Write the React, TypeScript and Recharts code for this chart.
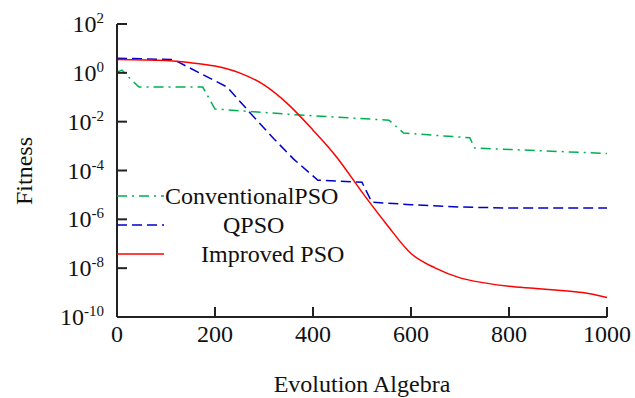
import { LineChart, Line, XAxis, YAxis, Legend, Label } from "recharts";

// generations (x) and fitness values (y)
const convGen = [0, 10, 25, 45, 175, 200, 375, 555, 585, 720, 730, 1000];
const convFit = [1.07, 1.3, 0.63, 0.26, 0.26, 0.033, 0.0186, 0.0115, 3.4e-3, 2.2e-3, 8.3e-4, 5e-4];

const qpsoGen = [0, 115, 225, 270, 320, 360, 410, 500, 520, 600, 700, 800, 1000];
const qpsoFit = [4.0, 3.5, 0.26, 0.025, 2e-3, 3e-4, 4e-5, 3.3e-5, 5e-6, 4e-6, 3.2e-6, 2.9e-6, 2.9e-6];

const impGen = [0, 100, 150, 200, 250, 300, 350, 400, 450, 500, 550, 600, 650, 700, 750, 800, 850, 900, 950, 1000];
const impFit = [
  3.5, 3.2, 2.6, 1.9, 1.0, 0.32, 0.05, 4.5e-3, 3.2e-4, 1.3e-5, 6.3e-7, 4e-8, 1e-8, 4e-9, 2.5e-9, 1.8e-9,
  1.5e-9, 1.25e-9, 1e-9, 6.3e-10,
];

const xTicks = [0, 200, 400, 600, 800, 1000];
const yTicks = [1e2, 1, 1e-2, 1e-4, 1e-6, 1e-8, 1e-10];

const toRows = (gen: number[], fit: number[]) => gen.map((g, i) => ({ gen: g, fit: fit[i] }));

const FONT = "Liberation Serif, Times New Roman, Times, serif";
const AXIS = "#222";
const txt = { fontFamily: FONT, fontSize: 24, fill: "#111" };

const series = [
  { name: "ConventionalPSO", data: toRows(convGen, convFit), color: "#00b050", dash: "10 5 2 5", textX: 48 },
  { name: "QPSO", data: toRows(qpsoGen, qpsoFit), color: "#0000cc", dash: "10 5", textX: 106 },
  { name: "Improved PSO", data: toRows(impGen, impFit), color: "#ff0000", dash: undefined, textX: 84 },
];

const YTick = (props: any) => {
  const { x, y, payload } = props;
  const exp = Math.round(Math.log10(payload.value));
  return (
    <g>
      <line x1={x} y1={y} x2={x + 10} y2={y} stroke={AXIS} strokeWidth={2} />
      <text x={x - 13} y={y + 8} textAnchor="end" style={txt}>
        10
        <tspan dy={-9} style={{ fontSize: 15 }}>
          {exp}
        </tspan>
      </text>
    </g>
  );
};

const XTick = (props: any) => {
  const { x, y, payload } = props;
  return (
    <g>
      <line x1={x} y1={y} x2={x} y2={y - 10} stroke={AXIS} strokeWidth={2} />
      <text x={x} y={y + 25} textAnchor="middle" style={txt}>
        {payload.value}
      </text>
    </g>
  );
};

const renderLegend = () => (
  <svg width={260} height={90} style={{ display: "block" }}>
    {series.map((s, i) => (
      <g key={s.name}>
        <line
          x1={0}
          y1={16 + i * 29}
          x2={47}
          y2={16 + i * 29}
          stroke={s.color}
          strokeWidth={1.5}
          strokeDasharray={s.dash}
        />
        <text x={s.textX} y={24 + i * 29} style={txt}>
          {s.name}
        </text>
      </g>
    ))}
  </svg>
);

const App = () => {
  return (
    <div
      style={{
        width: 635,
        height: 398,
        position: "absolute",
        left: 0,
        top: 0,
        background: "#fff",
        fontFamily: FONT,
      }}
    >
      <LineChart width={635} height={398} margin={{ top: 24, right: 28, left: 0, bottom: 0 }}>
        <XAxis
          dataKey="gen"
          type="number"
          domain={[0, 1000]}
          ticks={xTicks}
          height={81}
          tickSize={0}
          tickMargin={0}
          tickLine={false}
          axisLine={{ stroke: AXIS, strokeWidth: 2 }}
          tick={<XTick />}
          allowDuplicatedCategory={false}
        >
          <Label
            content={() => (
              <text x={362} y={392} textAnchor="middle" style={txt}>
                Evolution Algebra
              </text>
            )}
          />
        </XAxis>
        <YAxis
          dataKey="fit"
          scale="log"
          type="number"
          domain={[1e-10, 1e2]}
          ticks={yTicks}
          width={117}
          tickSize={0}
          tickMargin={0}
          tickLine={false}
          axisLine={{ stroke: AXIS, strokeWidth: 2 }}
          tick={<YTick />}
          allowDataOverflow
        >
          <Label
            content={() => (
              <text transform="translate(32,171) rotate(-90)" textAnchor="middle" style={txt}>
                Fitness
              </text>
            )}
          />
        </YAxis>
        <Legend
          layout="horizontal"
          verticalAlign="middle"
          align="center"
          content={renderLegend}
          wrapperStyle={{ left: 117, top: 180, width: 260, height: 90 }}
        />
        {series.map((s) => (
          <Line
            key={s.name}
            data={s.data}
            dataKey="fit"
            name={s.name}
            type={s.name === "Improved PSO" ? "monotone" : "linear"}
            stroke={s.color}
            strokeWidth={1.5}
            strokeDasharray={s.dash}
            dot={false}
            activeDot={false}
            isAnimationActive={false}
          />
        ))}
      </LineChart>
    </div>
  );
};

export default App;
